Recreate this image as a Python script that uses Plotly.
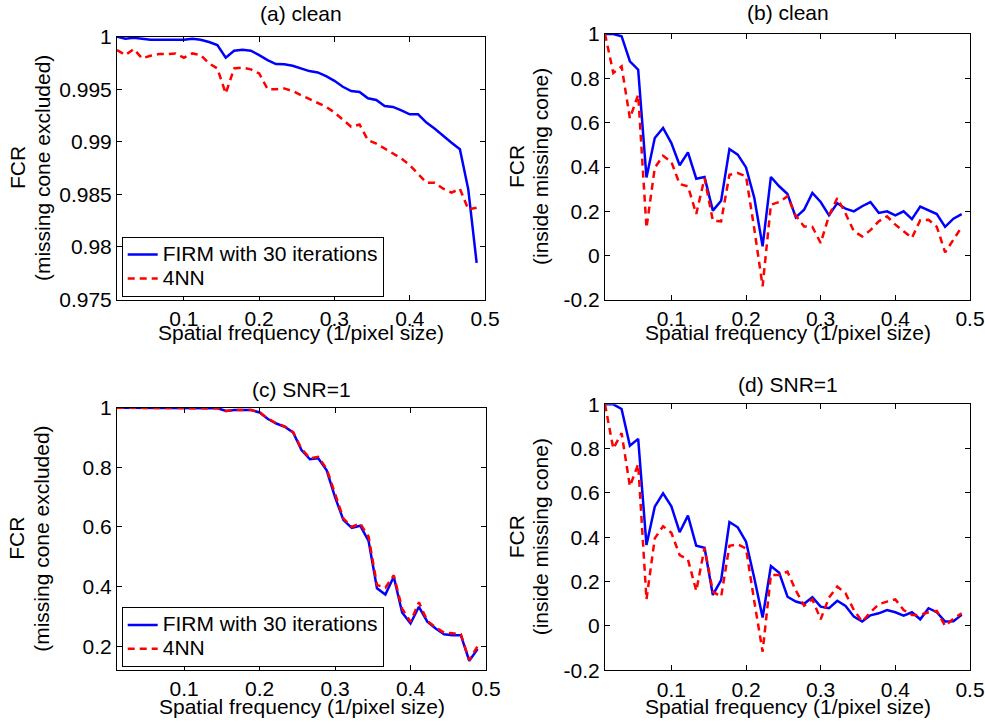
import plotly.graph_objects as go

W, H = 985, 725

# spatial frequency samples (1/pixel size)
freq = [k / 90 for k in range(1, 45)]

a_firm = [1.0, 0.9998, 0.9999, 0.9998, 0.9997, 0.9997, 0.9997, 0.9997, 0.9997, 0.9998, 0.9997,
          0.9995, 0.9992, 0.9980, 0.99867, 0.99876, 0.99867, 0.99825, 0.99778, 0.9974, 0.99737,
          0.99724, 0.99695, 0.99673, 0.9966, 0.99625, 0.9958, 0.99524, 0.99483, 0.99475, 0.99414,
          0.99398, 0.99341, 0.99332, 0.993, 0.99262, 0.99262, 0.99183, 0.99125, 0.99056, 0.98992,
          0.98929, 0.98548, 0.97849]
a_4nn = [0.99873, 0.99825, 0.99883, 0.99794, 0.99819, 0.99835, 0.99835, 0.99841, 0.998, 0.99841,
         0.99825, 0.99746, 0.99698, 0.9946, 0.99698, 0.99705, 0.99689, 0.99651, 0.99502, 0.995,
         0.99508, 0.99483, 0.99444, 0.99406, 0.99371, 0.99333, 0.99279, 0.99213, 0.99143, 0.99165,
         0.99016, 0.98984, 0.98937, 0.98889, 0.98841, 0.98778, 0.9869, 0.98611, 0.98611, 0.98554,
         0.98516, 0.98554, 0.98357, 0.98373]

b_firm = [1.0, 1.0, 0.99, 0.877, 0.839, 0.353, 0.531, 0.576, 0.508, 0.408, 0.466, 0.347, 0.355,
          0.203, 0.248, 0.481, 0.456, 0.398, 0.26, 0.042, 0.355, 0.313, 0.278, 0.173, 0.207,
          0.283, 0.242, 0.182, 0.237, 0.212, 0.2, 0.223, 0.242, 0.193, 0.2, 0.182, 0.2, 0.165,
          0.221, 0.203, 0.188, 0.13, 0.167, 0.187]
b_4nn = [1.0, 0.824, 0.854, 0.62, 0.726, 0.125, 0.396, 0.451, 0.423, 0.323, 0.313, 0.188, 0.35,
         0.158, 0.155, 0.365, 0.373, 0.358, 0.12, -0.138, 0.23, 0.242, 0.268, 0.18, 0.132, 0.13,
         0.057, 0.18, 0.26, 0.19, 0.11, 0.087, 0.115, 0.155, 0.177, 0.14, 0.11, 0.08, 0.16,
         0.162, 0.13, 0.015, 0.072, 0.13]

c_firm = [1.0, 1.0, 1.0, 1.0, 1.0, 1.0, 1.0, 1.0, 1.0, 1.0, 1.0, 1.0, 0.998, 0.989, 0.992, 0.992,
          0.992, 0.984, 0.962, 0.947, 0.936, 0.917, 0.858, 0.827, 0.83, 0.79, 0.70, 0.623, 0.597,
          0.604, 0.553, 0.394, 0.373, 0.433, 0.313, 0.276, 0.332, 0.282, 0.259, 0.24, 0.237,
          0.237, 0.151, 0.19]
c_4nn = [1.0, 1.0, 1.0, 1.0, 1.0, 1.0, 1.0, 1.0, 1.0, 1.0, 1.0, 1.0, 0.998, 0.989, 0.992, 0.992,
         0.992, 0.985, 0.963, 0.948, 0.937, 0.918, 0.862, 0.83, 0.835, 0.795, 0.712, 0.628, 0.6,
         0.612, 0.567, 0.405, 0.396, 0.438, 0.326, 0.282, 0.347, 0.285, 0.263, 0.245, 0.243,
         0.24, 0.153, 0.2]

d_firm = [1.0, 1.0, 0.979, 0.813, 0.844, 0.365, 0.538, 0.598, 0.54, 0.423, 0.498, 0.362, 0.353,
          0.14, 0.207, 0.469, 0.445, 0.38, 0.215, 0.038, 0.27, 0.24, 0.132, 0.11, 0.10, 0.13,
          0.087, 0.08, 0.114, 0.09, 0.042, 0.02, 0.048, 0.057, 0.072, 0.062, 0.047, 0.062, 0.03,
          0.08, 0.062, 0.02, 0.021, 0.05]
d_4nn = [1.0, 0.80, 0.87, 0.63, 0.73, 0.12, 0.395, 0.45, 0.42, 0.32, 0.30, 0.158, 0.353, 0.155,
         0.132, 0.362, 0.368, 0.35, 0.11, -0.116, 0.23, 0.23, 0.245, 0.16, 0.092, 0.12, 0.03,
         0.128, 0.178, 0.147, 0.072, 0.02, 0.062, 0.098, 0.11, 0.12, 0.072, 0.05, 0.05, 0.062,
         0.068, 0.0, 0.033, 0.057]

x_ticks = [0.1, 0.2, 0.3, 0.4, 0.5]
x_ticktext = ["0.1", "0.2", "0.3", "0.4", "0.5"]
ya_ticks = [0.975, 0.98, 0.985, 0.99, 0.995, 1.0]
ya_ticktext = ["0.975", "0.98", "0.985", "0.99", "0.995", "1"]
yb_ticks = [-0.2, 0, 0.2, 0.4, 0.6, 0.8, 1.0]
yb_ticktext = ["-0.2", "0", "0.2", "0.4", "0.6", "0.8", "1"]
yc_ticks = [0.2, 0.4, 0.6, 0.8, 1.0]
yc_ticktext = ["0.2", "0.4", "0.6", "0.8", "1"]

titles = ["(a) clean", "(b) clean", "(c) SNR=1", "(d) SNR=1"]
name_firm = "FIRM with 30 iterations"
name_4nn = "4NN"
xlabel = "Spatial frequency (1/pixel size)"
ylabel_main = "FCR"
ylabel_ex = "(missing cone excluded)"
ylabel_in = "(inside missing cone)"

FONT = "Liberation Sans, Arial, Helvetica, sans-serif"
FS = 21
BLUE = "#0000ff"
RED = "#ff0000"

# pixel boxes of each axes: (left, right, top, bottom)
boxes = [(117, 485, 36.7, 299.5), (605, 970, 34, 300), (117, 486, 407.7, 670), (605, 970, 404.3, 670.3)]
title_y = [14, 12, 389, 384]
xlabel_y = [333, 333, 706, 706]
ylab1_x = [17, 516, 17, 516]
ylab2_x = [42, 540, 42, 540]


def legend_label(s):
    return "<span style='font-size:%dpx'>%s</span>" % (FS, s)


fig = go.Figure()
series = [(a_firm, a_4nn), (b_firm, b_4nn), (c_firm, c_4nn), (d_firm, d_4nn)]
legends = ["legend", None, "legend2", None]
for i, (f, n) in enumerate(series):
    sfx = "" if i == 0 else str(i + 1)
    show = legends[i] is not None
    kw = dict(legend=legends[i]) if show else {}
    fig.add_trace(go.Scatter(x=freq, y=f, mode="lines", name=legend_label(name_firm), showlegend=show,
                             line=dict(color=BLUE, width=2.5), xaxis="x" + sfx, yaxis="y" + sfx, **kw))
    fig.add_trace(go.Scatter(x=freq, y=n, mode="lines", name=legend_label(name_4nn), showlegend=show,
                             line=dict(color=RED, width=2.5, dash="7px,5px"), xaxis="x" + sfx,
                             yaxis="y" + sfx, **kw))

yranges = [[0.975, 1.0], [-0.2, 1.0], [0.12, 1.0], [-0.2, 1.0]]
yticks = [(ya_ticks, ya_ticktext), (yb_ticks, yb_ticktext), (yc_ticks, yc_ticktext), (yb_ticks, yb_ticktext)]

axis_common = dict(showline=True, linecolor="black", linewidth=1, mirror="ticks", ticks="inside",
                   ticklen=5, tickwidth=1, tickcolor="black", showgrid=False, zeroline=False,
                   automargin=False, ticklabeloverflow="allow",
                   tickfont=dict(family=FONT, size=FS, color="black"))

layout_axes = {}
annotations = []
for i, (l, r, t, b) in enumerate(boxes):
    sfx = "" if i == 0 else str(i + 1)
    layout_axes["xaxis" + sfx] = dict(domain=[l / W, r / W], anchor="y" + sfx, range=[1 / 90, 0.5],
                                      tickvals=x_ticks, ticktext=x_ticktext, **axis_common)
    layout_axes["yaxis" + sfx] = dict(domain=[1 - b / H, 1 - t / H], anchor="x" + sfx, range=yranges[i],
                                      tickvals=yticks[i][0], ticktext=yticks[i][1], **axis_common)
    cx = (l + r) / 2
    cy = (t + b) / 2
    txtfont = dict(family=FONT, size=FS, color="black")
    annotations.append(dict(text=titles[i], x=cx / W, y=1 - title_y[i] / H, xref="paper", yref="paper",
                            showarrow=False, xanchor="center", yanchor="middle", font=txtfont))
    annotations.append(dict(text=xlabel, x=cx / W, y=1 - xlabel_y[i] / H, xref="paper", yref="paper",
                            showarrow=False, xanchor="center", yanchor="middle", font=txtfont))
    annotations.append(dict(text=ylabel_main, x=ylab1_x[i] / W, y=1 - cy / H, xref="paper",
                            yref="paper", showarrow=False, xanchor="center", yanchor="middle",
                            textangle=-90, font=txtfont))
    annotations.append(dict(text=ylabel_ex if i % 2 == 0 else ylabel_in, x=ylab2_x[i] / W,
                            y=1 - cy / H, xref="paper", yref="paper", showarrow=False,
                            xanchor="center", yanchor="middle", textangle=-90, font=txtfont))

legend_style = dict(xanchor="left", yanchor="bottom", bgcolor="white", bordercolor="black",
                    borderwidth=1, font=dict(family=FONT, size=16, color="black"),
                    tracegroupgap=0, itemwidth=30)

fig.update_layout(
    width=W, height=H, margin=dict(l=0, r=0, t=0, b=0, autoexpand=False),
    paper_bgcolor="white", plot_bgcolor="white",
    font=dict(family=FONT, size=FS, color="black"),
    legend=dict(x=121.7 / W, y=1 - 296.7 / H, **legend_style),
    legend2=dict(x=121.7 / W, y=1 - 667 / H, **legend_style),
    annotations=annotations,
    **layout_axes,
)

fig.write_html("out.html", config={"displayModeBar": False},
               post_script="document.body.style.margin='0';")
